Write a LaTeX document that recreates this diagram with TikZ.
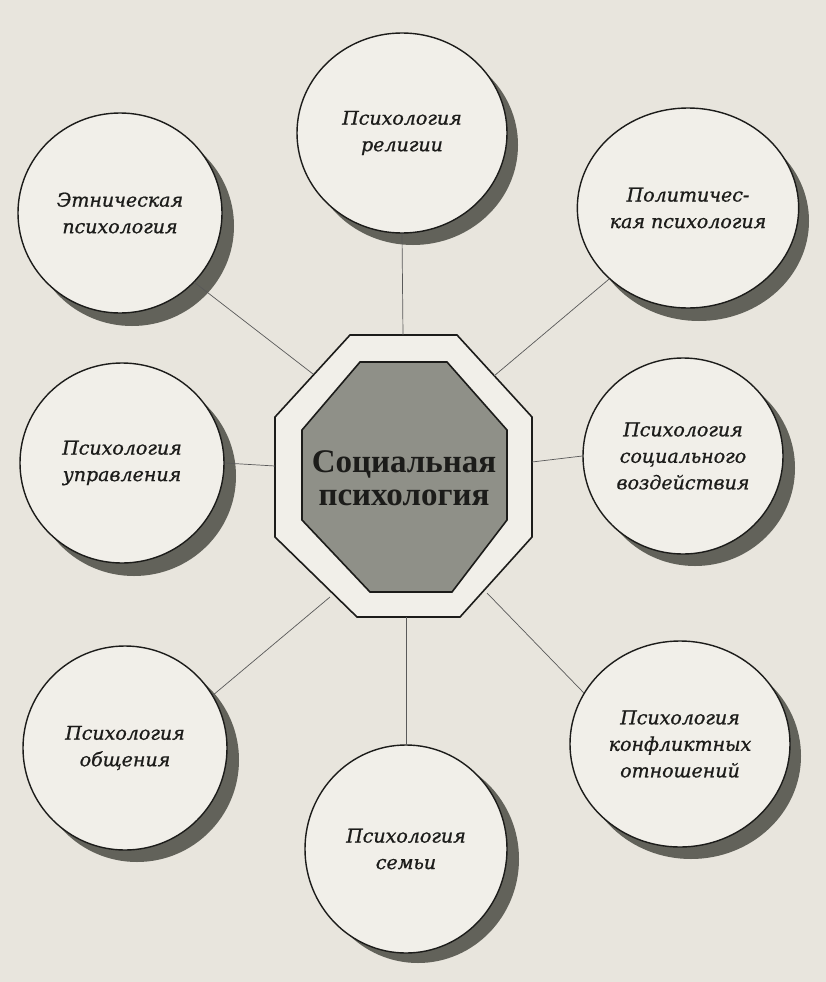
\documentclass[tikz,border=0pt]{standalone}
\usepackage{fontspec}
\setmainfont{DejaVu Serif}
\newfontfamily\topicfont[FakeBold=0.9]{DejaVu Serif}
\newfontfamily\corefont{Liberation Serif}
\usetikzlibrary{shapes.geometric}
\definecolor{paper}{RGB}{232,229,221}
\definecolor{paperlight}{RGB}{241,239,233}
\definecolor{shadowc}{RGB}{98,98,90}
\definecolor{octfill}{RGB}{143,144,136}
\definecolor{inkc}{RGB}{28,28,26}
\tikzset{
  topic/.style={ellipse, draw=inkc, line width=1.4pt, fill=paperlight, inner sep=0pt,
    align=center, text=inkc, font=\fontsize{19}{26.5}\topicfont\itshape},
  shade/.style={ellipse, fill=shadowc, inner sep=0pt},
  link/.style={draw=black!65, line width=0.7pt},
  oct/.style={draw=inkc, line width=1.6pt}
}
\begin{document}
\begin{tikzpicture}[x=1pt,y=-1pt]
\useasboundingbox (0,0) rectangle (826,982);
\fill[paper] (0,0) rectangle (826,982);

% octagons
\draw[oct, fill=paperlight] (350,335) -- (457,335) -- (532,417) -- (532,537) -- (460,617) -- (357,617) -- (275,537) -- (275,417) -- cycle;
\draw[oct, fill=octfill] (360,362) -- (447,362) -- (507,430) -- (507,520) -- (452,592) -- (370,592) -- (302,520) -- (302,430) -- cycle;
\node[align=center, text=inkc, font=\fontsize{33}{33}\corefont\bfseries] (core) at (404,478) {Социальная\\психология};

% named points on outer octagon
\coordinate (oT) at (403,335);
\coordinate (oB) at (406,617);
\coordinate (oL) at (275,466);
\coordinate (oR) at (532,462);
\coordinate (oTL) at (313,374);
\coordinate (oTR) at (494,376);
\coordinate (oBL) at (330,597);
\coordinate (oBR) at (487,593);

% shadows
\node[shade, minimum width=210pt, minimum height=200pt] at (413,145) {};
\node[shade, minimum width=204pt, minimum height=200pt] at (132,226) {};
\node[shade, minimum width=220pt, minimum height=200pt] at (699,221) {};
\node[shade, minimum width=204pt, minimum height=200pt] at (134,476) {};
\node[shade, minimum width=200pt, minimum height=196pt] at (695,468) {};
\node[shade, minimum width=204pt, minimum height=204pt] at (137,760) {};
\node[shade, minimum width=202pt, minimum height=208pt] at (418,859) {};
\node[shade, minimum width=220pt, minimum height=206pt] at (691,756) {};

% topics
\node[topic, minimum width=210pt, minimum height=200pt] (rel) at (402,133) {Психология\\религии};
\node[topic, minimum width=204pt, minimum height=200pt] (eth) at (120,213) {Этническая\\психология};
\node[topic, minimum width=220pt, minimum height=200pt] (pol) at (688,208) {Политичес-\\кая психология};
\node[topic, minimum width=204pt, minimum height=200pt] (man) at (122,463) {Психология\\управления};
\node[topic, minimum width=200pt, minimum height=196pt] (inf) at (683,456) {Психология\\социального\\воздействия};
\node[topic, minimum width=204pt, minimum height=204pt] (com) at (125,748) {Психология\\общения};
\node[topic, minimum width=202pt, minimum height=208pt] (fam) at (406,849) {Психология\\семьи};
\node[topic, minimum width=220pt, minimum height=206pt] (con) at (680,744) {Психология\\конфликтных\\отношений};

% connectors
\draw[link] (rel.south) -- (oT);
\draw[link] (fam.north) -- (oB);
\draw[link] (man.east) -- (oL);
\draw[link] (inf.west) -- (oR);
\draw[link] (eth.-43) -- (oTL);
\draw[link] (pol.-138) -- (oTR);
\draw[link] (com.31) -- (oBL);
\draw[link] (con.152) -- (oBR);
\end{tikzpicture}
\end{document}
